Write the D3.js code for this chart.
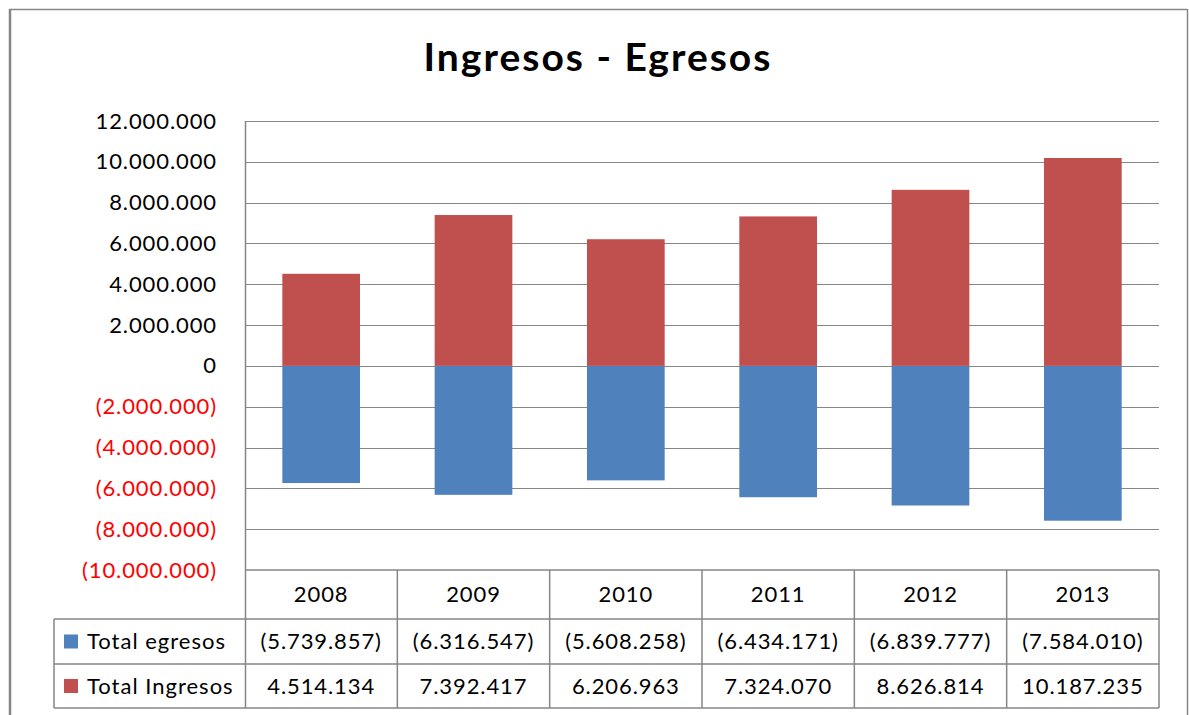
<!DOCTYPE html>
<html>
<head>
<meta charset="utf-8">
<script src="https://cdn.jsdelivr.net/npm/d3@7"></script>
<style>
  body { margin: 0; background: #fff; }
  text { font-family: Lato, "Open Sans", sans-serif; }
</style>
</head>
<body>
<div id="graph"></div>
<script>
var years = ["2008", "2009", "2010", "2011", "2012", "2013"];
var egresos = [-5739857, -6316547, -5608258, -6434171, -6839777, -7584010];
var ingresos = [4514134, 7392417, 6206963, 7324070, 8626814, 10187235];
var yTicks = [-10000000, -8000000, -6000000, -4000000, -2000000, 0,
              2000000, 4000000, 6000000, 8000000, 10000000, 12000000];
var seriesNames = ["Total egresos", "Total Ingresos"];
var colors = ["#4f81bd", "#c0504d"];

var W = 1189, H = 715;
var plot = {left: 245, right: 1159, top: 121, bottom: 570};
var rows = [570, 619, 664, 708];
var legendLeft = 54;
var grid = "#868686";

var loc = d3.formatLocale({decimal: ",", thousands: ".", grouping: [3], currency: ["", ""]});
var fmt = loc.format(",d");
function money(v) { return v < 0 ? "(" + fmt(-v) + ")" : fmt(v); }

var svg = d3.select("#graph").append("svg")
    .attr("width", W)
    .attr("height", H);

// outer frame
svg.append("line").attr("x1", 9).attr("x2", 1187).attr("y1", 9.5).attr("y2", 9.5)
    .style("stroke", grid).style("stroke-width", 1.5);
svg.append("line").attr("x1", 10).attr("x2", 10).attr("y1", 9).attr("y2", H)
    .style("stroke", grid).style("stroke-width", 2.5);
svg.append("line").attr("x1", 1187.5).attr("x2", 1187.5).attr("y1", 9).attr("y2", H)
    .style("stroke", grid).style("stroke-width", 1.5);

svg.append("text")
    .attr("x", 598)
    .attr("y", 71)
    .style("font-size", "39px")
    .style("font-weight", "bold")
    .style("letter-spacing", "2px")
    .style("text-anchor", "middle")
    .text("Ingresos - Egresos");

var x = d3.scaleBand()
    .domain(years)
    .range([plot.left, plot.right])
    .paddingInner(0.49)
    .paddingOuter(0.245);
var y = d3.scaleLinear()
    .domain([-10000000, 12000000])
    .range([plot.bottom, plot.top]);

// gridlines
svg.append("g").selectAll("line")
    .data(yTicks.filter(function(d) { return d > -10000000; }))
  .enter().append("line")
    .attr("x1", plot.left)
    .attr("x2", plot.right)
    .attr("y1", function(d) { return Math.round(y(d)) + 0.5; })
    .attr("y2", function(d) { return Math.round(y(d)) + 0.5; })
    .style("stroke", grid)
    .style("stroke-width", 1.2);

var yAxis = d3.axisLeft(y).tickValues(yTicks).tickSize(0).tickPadding(0).tickFormat(money);
var ya = svg.append("g")
    .attr("transform", "translate(217,0)")
    .call(yAxis);
ya.select(".domain").remove();
ya.selectAll("text")
    .style("font-family", "Lato, 'Open Sans', sans-serif")
    .style("font-size", "22px")
    .style("letter-spacing", "0.9px")
    .attr("fill", function(d) { return d < 0 ? "#ff0000" : "#000"; });

// bars
var series = [egresos, ingresos];
series.forEach(function(vals, i) {
  svg.append("g").selectAll("rect")
      .data(vals)
    .enter().append("rect")
      .attr("x", function(d, j) { return x(years[j]); })
      .attr("width", x.bandwidth())
      .attr("y", function(d) { return y(Math.max(0, d)); })
      .attr("height", function(d) { return Math.abs(y(d) - y(0)); })
      .style("fill", colors[i]);
});

// y axis line
svg.append("line")
    .attr("x1", plot.left + 0.5).attr("x2", plot.left + 0.5)
    .attr("y1", plot.top).attr("y2", rows[3])
    .style("stroke", grid).style("stroke-width", 1.5);

// data table
var step = x.step();
var table = svg.append("g");
rows.forEach(function(r, i) {
  table.append("line")
      .attr("x1", i === 0 ? plot.left : legendLeft)
      .attr("x2", plot.right)
      .attr("y1", r).attr("y2", r)
      .style("stroke", grid).style("stroke-width", 1.5);
});
years.forEach(function(yr, j) {
  var xr = plot.left + step * (j + 1);
  table.append("line")
      .attr("x1", xr).attr("x2", xr)
      .attr("y1", rows[0]).attr("y2", rows[3])
      .style("stroke", grid).style("stroke-width", 1.5);
});
table.append("line")
    .attr("x1", legendLeft).attr("x2", legendLeft)
    .attr("y1", rows[1]).attr("y2", rows[3])
    .style("stroke", grid).style("stroke-width", 1.5);

table.selectAll(".year")
    .data(years)
  .enter().append("text")
    .attr("class", "year")
    .attr("x", function(d) { return x(d) + x.bandwidth() / 2; })
    .attr("y", (rows[0] + rows[1]) / 2)
    .attr("dy", "0.36em")
    .style("font-size", "22px")
    .style("letter-spacing", "0.9px")
    .style("text-anchor", "middle")
    .text(function(d) { return d; });

series.forEach(function(vals, i) {
  var cy = (rows[i + 1] + rows[i + 2]) / 2;
  table.append("rect")
      .attr("x", 64).attr("y", cy - 7)
      .attr("width", 14).attr("height", 14)
      .style("fill", colors[i]);
  table.append("text")
      .attr("x", 87).attr("y", cy)
      .attr("dy", "0.36em")
      .style("font-size", "22px")
      .style("letter-spacing", "1px")
      .text(seriesNames[i]);
  table.append("g").selectAll("text")
      .data(vals)
    .enter().append("text")
      .attr("x", function(d, j) { return x(years[j]) + x.bandwidth() / 2; })
      .attr("y", cy)
      .attr("dy", "0.36em")
      .style("font-size", "22px")
      .style("letter-spacing", "0.9px")
      .style("text-anchor", "middle")
      .text(money);
});
</script>
</body>
</html>
